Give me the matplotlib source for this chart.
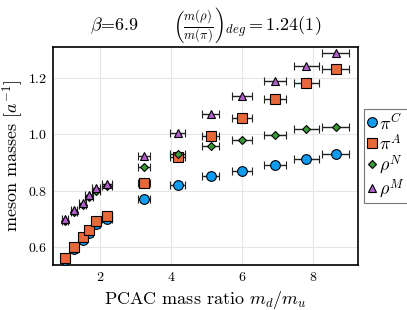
import matplotlib
matplotlib.use("Agg")
import matplotlib.pyplot as plt
from matplotlib.lines import Line2D
import numpy as np

plt.rcParams['font.family'] = 'serif'
plt.rcParams['font.serif'] = ['cmr10']
plt.rcParams['mathtext.fontset'] = 'cm'
plt.rcParams['axes.formatter.use_mathtext'] = True
plt.rcParams['axes.unicode_minus'] = False

x = [1.01, 1.25, 1.50, 1.69, 1.88, 2.18, 3.23, 4.19, 5.11, 6.00, 6.93, 7.81, 8.64]
xerr = [0.08, 0.09, 0.10, 0.11, 0.12, 0.14, 0.18, 0.21, 0.245, 0.29, 0.31, 0.35, 0.39]
pi_C = [0.553, 0.593, 0.624, 0.650, 0.683, 0.700, 0.770, 0.820, 0.852, 0.870, 0.891, 0.914, 0.930]
pi_A = [0.561, 0.602, 0.635, 0.661, 0.693, 0.712, 0.826, 0.921, 0.994, 1.057, 1.124, 1.181, 1.230]
rho_N = [0.694, 0.725, 0.751, 0.777, 0.800, 0.816, 0.883, 0.930, 0.960, 0.980, 0.998, 1.019, 1.027]
rho_M = [0.700, 0.732, 0.758, 0.785, 0.809, 0.824, 0.922, 1.006, 1.072, 1.136, 1.188, 1.243, 1.287]

series = [
    (pi_C, 'o', '#0f9bf0', r'$\pi^C$', 7),
    (pi_A, 's', '#e8683a', r'$\pi^A$', 6.5),
    (rho_N, 'D', '#3a9a3a', r'$\rho^N$', 4.5),
    (rho_M, '^', '#b060c8', r'$\rho^M$', 5.5),
]

fig = plt.figure(figsize=(4.07, 3.10), dpi=100)
ax = fig.add_axes([53/407, 1-265/310, (358-53)/407, (265-47)/310])

handles = []
for vals, m, c, lab, ms in series:
    ax.errorbar(x, vals, xerr=xerr, fmt=m, color=c, mec='black', mew=0.8,
                ms=ms, ecolor='#222222', elinewidth=1.0, capsize=3, capthick=1.0,
                zorder=3)
    handles.append(Line2D([], [], ls='none', marker=m, color=c, mec='black',
                          mew=0.8, ms=ms, label=lab))

ax.set_xlim(0.666, 9.27)
ax.set_ylim(0.537, 1.309)
ax.set_xticks([2, 4, 6, 8])
ax.set_yticks([0.6, 0.8, 1.0, 1.2])
ax.grid(True, color='#e6e6e6', lw=0.8, zorder=0)
ax.tick_params(labelsize=10, length=0, pad=4)
for s in ax.spines.values():
    s.set_linewidth(1.2)
    s.set_color('black')

ax.set_xlabel(r'PCAC mass ratio $m_d/m_u$', fontsize=13, labelpad=4)
ax.set_ylabel(r'meson masses $[a^{-1}]$', fontsize=13, labelpad=2)
ax.set_title(r'$\beta$=6.9      $\left(\frac{m(\rho)}{m(\pi)}\right)_{deg} = 1.24(1)$',
             fontsize=13, pad=12)

leg = ax.legend(handles=handles, loc='center left', bbox_to_anchor=(1.02, 0.5),
                fontsize=13, frameon=True, fancybox=False, edgecolor='#555555',
                handlelength=0.6, handletextpad=0.1, borderpad=0.15,
                labelspacing=0.05, borderaxespad=0.0)
leg.get_frame().set_linewidth(0.8)

fig.savefig('out.png', dpi=100)
